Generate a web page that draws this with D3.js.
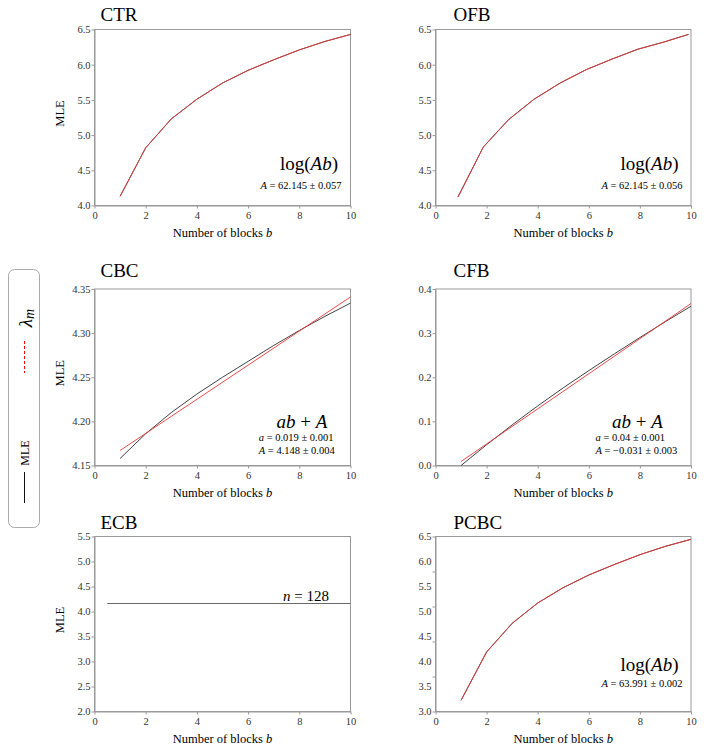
<!DOCTYPE html>
<html>
<head>
<meta charset="utf-8">
<script src="https://cdn.jsdelivr.net/npm/d3@7"></script>
<style>
    body { margin: 0; background: #fff; }
    svg { font-family: "Liberation Serif", "Times New Roman", serif; }
    svg text, svg tspan { font-family: "Liberation Serif", "Times New Roman", serif; }
    .axis path, .axis line { stroke: #999; }
    .axis text { fill: #333; font-size: 10.5px; }
</style>
</head>
<body>
<script>
// Data
const blocks = [1, 2, 3, 4, 5, 6, 7, 8, 9, 10];
const xTicks = [0, 2, 4, 6, 8, 10];

const ctrValues = [4.13, 4.82, 5.23, 5.51, 5.74, 5.92, 6.07, 6.21, 6.33, 6.43];
const ofbBlocks = [0.88, 1.87, 2.86, 3.86, 4.88, 5.9, 6.91, 7.92, 8.92, 9.9];
const ofbValues = [4.12, 4.83, 5.22, 5.51, 5.74, 5.93, 6.08, 6.22, 6.32, 6.43];
const cbcMle = [4.158, 4.186, 4.210, 4.231, 4.250, 4.268, 4.286, 4.303, 4.319, 4.334];
const cbcFitX = [1, 10];
const cbcFit = [4.167, 4.341];
const cfbMle = [0.0, 0.047, 0.092, 0.135, 0.176, 0.215, 0.253, 0.290, 0.326, 0.361];
const cfbFitX = [1, 10];
const cfbFit = [0.009, 0.367];
const ecbX = [0.5, 10];
const ecbValues = [4.16, 4.16];
const pcbcValues = [4.16, 4.85, 5.26, 5.55, 5.77, 5.95, 6.10, 6.24, 6.36, 6.46];

const ticks40to65 = [4.0, 4.5, 5.0, 5.5, 6.0, 6.5];
const cbcTicks = [4.15, 4.20, 4.25, 4.30, 4.35];
const cfbTicks = [0.0, 0.1, 0.2, 0.3, 0.4];
const ecbTicks = [2.0, 2.5, 3.0, 3.5, 4.0, 4.5, 5.0, 5.5];
const pcbcLabels = [3.0, 3.5, 4.0, 4.5, 5.0, 5.5, 6.0, 6.5];

const ctrNotes = ["log(Ab)", "A = 62.145 ± 0.057"];
const ofbNotes = ["log(Ab)", "A = 62.145 ± 0.056"];
const cbcNotes = ["ab + A", "a = 0.019 ± 0.001", "A = 4.148 ± 0.004"];
const cfbNotes = ["ab + A", "a = 0.04 ± 0.001", "A = −0.031 ± 0.003"];
const ecbNotes = ["n = 128"];
const pcbcNotes = ["log(Ab)", "A = 63.991 ± 0.002"];

// Layout
const cols = [{ x0: 94.5, x1: 350.5, title: 6 }, { x0: 435.5, x1: 691, title: 18 }];
const rows = [{ y0: 29.5, y1: 205.5, title: 20.5 }, { y0: 289, y1: 465.5, title: 276.5 }, { y0: 536.5, y1: 711.5, title: 528.5 }];

const mleColor = "#444";
const fitColor = "rgba(235, 55, 55, 0.9)";

let panels = [
    { name: "CTR", col: 0, row: 0, yDomain: [4, 6.5], yTicks: ticks40to65, fmt: ".1f",
      lines: [{ x: blocks, y: ctrValues, c: mleColor }, { x: blocks, y: ctrValues, c: fitColor }],
      notes: ctrNotes, noteX: [-70.5, -90], noteY: [-36, -16.5], noteSize: [19, 10.5] },
    { name: "OFB", col: 1, row: 0, yDomain: [4, 6.5], yTicks: ticks40to65, fmt: ".1f",
      lines: [{ x: ofbBlocks, y: ofbValues, c: mleColor }, { x: ofbBlocks, y: ofbValues, c: fitColor }],
      notes: ofbNotes, noteX: [-70.5, -89.5], noteY: [-36, -16.5], noteSize: [19, 10.5] },
    { name: "CBC", col: 0, row: 1, yDomain: [4.15, 4.35], yTicks: cbcTicks, fmt: ".2f",
      lines: [{ x: blocks, y: cbcMle, c: mleColor }, { x: cbcFitX, y: cbcFit, c: fitColor }],
      notes: cbcNotes, noteX: [-74, -91.7, -91.7], noteY: [-37.5, -24.5, -12], noteSize: [19, 10.5, 10.5] },
    { name: "CFB", col: 1, row: 1, yDomain: [0, 0.4], yTicks: cfbTicks, fmt: ".1f",
      lines: [{ x: blocks, y: cfbMle, c: mleColor }, { x: cfbFitX, y: cfbFit, c: fitColor }],
      notes: cfbNotes, noteX: [-79, -95.5, -95.5], noteY: [-37.5, -24.5, -12], noteSize: [19, 10.5, 10.5] },
    { name: "ECB", col: 0, row: 2, yDomain: [2, 5.5], yTicks: ecbTicks, fmt: ".1f",
      lines: [{ x: ecbX, y: ecbValues, c: "#6a6a6a" }],
      notes: ecbNotes, noteX: [-67.5], noteY: [-111], noteSize: [15] },
    { name: "PCBC", col: 1, row: 2, yDomain: [4, 6.5], yTicks: ticks40to65, fmt: ".1f", labels: pcbcLabels,
      lines: [{ x: blocks, y: pcbcValues, c: mleColor }, { x: blocks, y: pcbcValues, c: fitColor }],
      notes: pcbcNotes, noteX: [-70.5, -89.5], noteY: [-40.5, -24.5], noteSize: [19, 10.5] }
];

var svg = d3.select("body").append("svg")
    .attr("width", 706)
    .attr("height", 747);

// Write a formula: variable names in italics, "log" and numbers upright
function mathText(sel, str) {
    let parts = str.match(/[A-Za-z]+|[^A-Za-z]+/g);
    parts.forEach(function (p) {
        let t = sel.append("tspan").text(p);
        if (/^[A-Za-z]+$/.test(p) && p !== "log") {
            t.style("font-style", "italic");
        }
    });
}

panels.forEach(function (p) {
    let col = cols[p.col], row = rows[p.row];
    let width = col.x1 - col.x0, height = row.y1 - row.y0;

    let x = d3.scaleLinear().domain([0, 10]).range([0, width]);
    let y = d3.scaleLinear().domain(p.yDomain).range([height, 0]);

    let g = svg.append("g")
        .attr("transform", "translate(" + col.x0 + "," + row.y0 + ")");

    g.append("rect")
        .attr("width", width)
        .attr("height", height)
        .attr("fill", "none")
        .attr("stroke", "#999");

    g.append("g")
        .attr("class", "axis")
        .attr("transform", "translate(0," + height + ")")
        .call(d3.axisBottom(x).tickValues(xTicks).tickSize(3).tickSizeOuter(0).tickFormat(d3.format("d")));

    if (p.labels) {
        // tick marks and labels do not line up in the original
        g.append("g")
            .attr("class", "axis")
            .call(d3.axisLeft(y).tickValues(p.yTicks).tickSize(3).tickSizeOuter(0).tickFormat(""));
        let yLab = d3.scaleLinear().domain([p.labels[0], p.labels[p.labels.length - 1]]).range([height, 0]);
        let la = g.append("g")
            .attr("class", "axis")
            .call(d3.axisLeft(yLab).tickValues(p.labels).tickSize(0).tickPadding(4).tickFormat(d3.format(p.fmt)));
        la.select(".domain").remove();
    } else {
        g.append("g")
            .attr("class", "axis")
            .call(d3.axisLeft(y).tickValues(p.yTicks).tickSize(3).tickSizeOuter(0).tickPadding(1).tickFormat(d3.format(p.fmt)));
    }

    let line = d3.line()
        .x(d => x(d[0]))
        .y(d => y(d[1]));

    p.lines.forEach(function (l) {
        g.append("path")
            .datum(d3.zip(l.x, l.y))
            .attr("fill", "none")
            .attr("stroke", l.c)
            .attr("stroke-width", 1)
            .attr("d", line);
    });

    // panel title
    svg.append("text")
        .attr("x", col.x0 + col.title)
        .attr("y", row.title)
        .style("font-size", "19px")
        .text(p.name);

    // x label
    let xl = g.append("text")
        .attr("x", width / 2)
        .attr("y", height + 31)
        .style("text-anchor", "middle")
        .style("font-size", "12.5px");
    xl.append("tspan").text("Number of blocks ");
    xl.append("tspan").style("font-style", "italic").text("b");

    if (p.col === 0) {
        g.append("text")
            .attr("transform", "rotate(-90)")
            .attr("x", -(height / 2) + 4)
            .attr("y", -35)
            .attr("dominant-baseline", "central")
            .style("text-anchor", "middle")
            .style("font-size", "12.5px")
            .text("MLE");
    }

    p.notes.forEach(function (n, i) {
        let t = g.append("text")
            .attr("x", width + p.noteX[i])
            .attr("y", height + p.noteY[i])
            .style("font-size", p.noteSize[i] + "px");
        mathText(t, n);
    });
});

// Legend box on the left
let legend = svg.append("g");
legend.append("rect")
    .attr("x", 8.5)
    .attr("y", 269.5)
    .attr("width", 31)
    .attr("height", 258)
    .attr("rx", 6)
    .attr("fill", "none")
    .attr("stroke", "#aaa");
legend.append("line")
    .attr("x1", 24.5).attr("x2", 24.5)
    .attr("y1", 472).attr("y2", 503)
    .attr("stroke", "#111");
legend.append("text")
    .attr("transform", "translate(25,453) rotate(-90)")
    .attr("dominant-baseline", "central")
    .style("text-anchor", "middle")
    .style("font-size", "12px")
    .text("MLE");
legend.append("line")
    .attr("x1", 24.5).attr("x2", 24.5)
    .attr("y1", 341).attr("y2", 373)
    .attr("stroke", "red")
    .attr("stroke-dasharray", "3,2");
let lam = legend.append("text")
    .attr("transform", "translate(25,318) rotate(-90)")
    .attr("dominant-baseline", "central")
    .style("text-anchor", "middle")
    .style("font-size", "19px")
    .style("font-style", "italic");
lam.append("tspan").text("λ");
lam.append("tspan").attr("dy", 4).style("font-size", "14px").text("m");
</script>
</body>
</html>
